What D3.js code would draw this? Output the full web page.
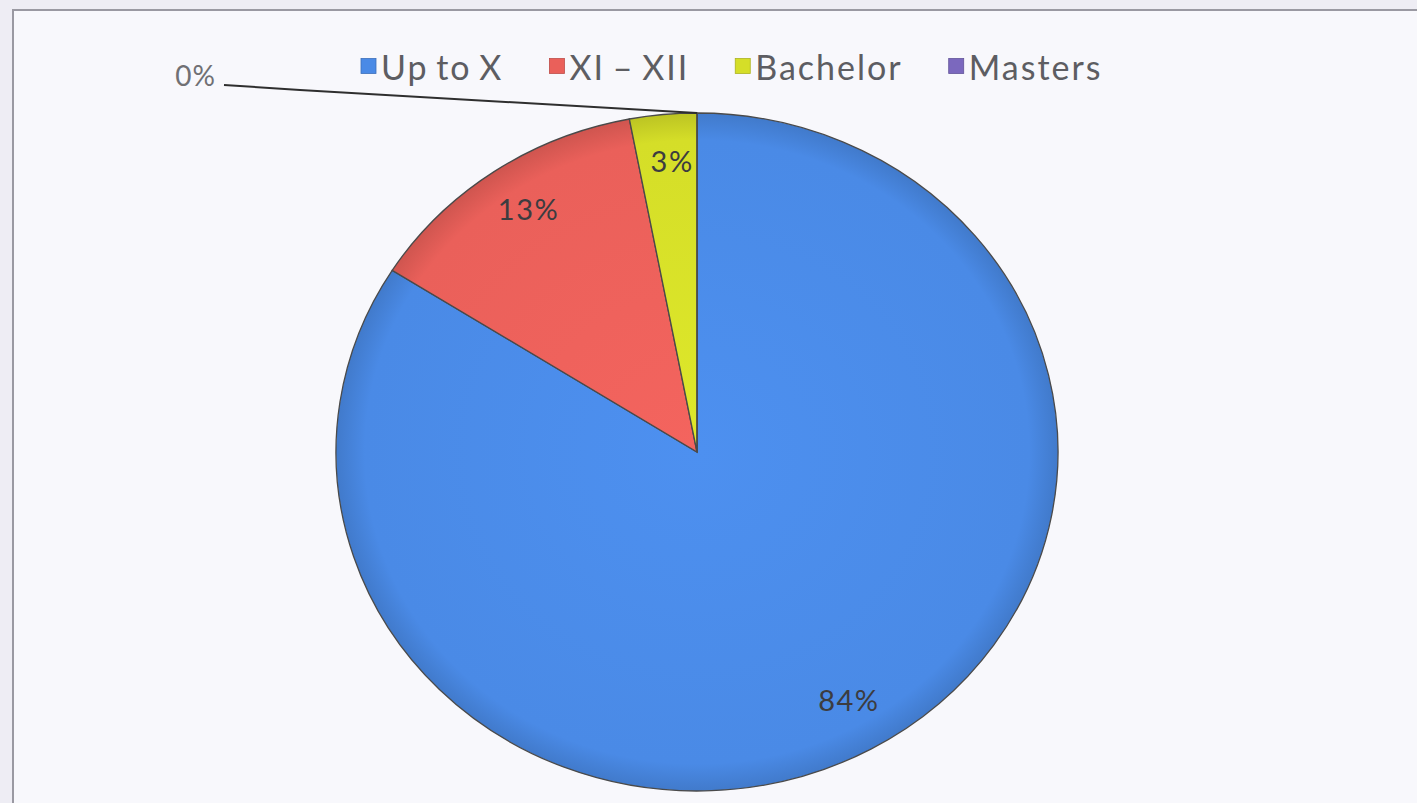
<!DOCTYPE html>
<html>
<head>
<meta charset="utf-8">
<script src="https://cdn.jsdelivr.net/npm/d3@7"></script>
<style>
  html, body { margin: 0; padding: 0; background: #eeedf4; }
  svg { display: block; }
</style>
</head>
<body>
<div id="chart"></div>
<script>
// education level shares
var categories = ["Up to X", "XI \u2013 XII", "Bachelor", "Masters"];
var values = [84, 13, 3, 0];
var colors = ["#4a8ae6", "#ea605a", "#d5de28", "#7b68be"];
var labels = ["84%", "13%", "3%", "0%"];

var W = 1417, H = 803;
var cx = 697, cy = 452, rx = 361, ry = 339;
var font = "Lato, 'Open Sans', sans-serif";

var svg = d3.select("#chart").append("svg")
  .attr("width", W)
  .attr("height", H);

// chart area frame
svg.append("rect")
  .attr("x", 13).attr("y", 10)
  .attr("width", W).attr("height", H)
  .attr("fill", "#f8f8fc")
  .attr("stroke", "#9a99a2")
  .attr("stroke-width", 2);

var defs = svg.append("defs");
colors.forEach(function(c, i) {
  var g = defs.append("radialGradient")
    .attr("id", "grad" + i)
    .attr("gradientUnits", "userSpaceOnUse")
    .attr("cx", 0).attr("cy", 0).attr("r", rx);
  g.append("stop").attr("offset", "0%").attr("stop-color", d3.color(c).brighter(0.12));
  g.append("stop").attr("offset", "92%").attr("stop-color", c);
  g.append("stop").attr("offset", "100%").attr("stop-color", d3.color(c).darker(0.35));
});

var pie = d3.pie().sort(null).value(function(d) { return d; });
var arcs = pie(values);

var arc = d3.arc().innerRadius(0).outerRadius(rx);
var labelArc = d3.arc().innerRadius(rx * 0.85).outerRadius(rx * 0.85);

var g = svg.append("g")
  .attr("transform", "translate(" + cx + "," + cy + ") scale(1," + (ry / rx) + ")");

g.selectAll("path")
  .data(arcs)
  .enter()
  .append("path")
  .attr("d", arc)
  .attr("fill", function(d, i) { return "url(#grad" + i + ")"; })
  .attr("stroke", "#4a4a4a")
  .attr("stroke-width", 1.3)
  .attr("vector-effect", "non-scaling-stroke");

// labels inside slices
svg.selectAll("text.pct")
  .data(arcs.filter(function(d) { return d.value > 0; }))
  .enter()
  .append("text")
  .attr("class", "pct")
  .attr("x", function(d) { return cx + labelArc.centroid(d)[0] + 4; })
  .attr("y", function(d) { return cy + labelArc.centroid(d)[1] * ry / rx - 5; })
  .attr("text-anchor", "middle")
  .attr("dominant-baseline", "central")
  .style("font-family", font)
  .style("font-size", "29px")
  .style("letter-spacing", "1.5px")
  .style("fill", "#3c3c40")
  .text(function(d) { return labels[d.index]; });

// 0% slice leader line and label
var zero = arcs[3];
var tip = [cx + rx * Math.sin(zero.startAngle), cy - ry * Math.cos(zero.startAngle)];
svg.append("path")
  .attr("d", d3.line()([[224, 85], [300, 90], tip]))
  .attr("fill", "none")
  .attr("stroke", "#2e2e2e")
  .attr("stroke-width", 2);
svg.append("text")
  .attr("x", 216).attr("y", 75)
  .attr("text-anchor", "end")
  .attr("dominant-baseline", "central")
  .style("font-family", font)
  .style("font-size", "28px")
  .style("letter-spacing", "1px")
  .style("fill", "#707074")
  .text(labels[3]);

// legend
var legend = svg.append("g").attr("transform", "translate(361,66)");
var lx = 0;
categories.forEach(function(c, i) {
  var item = legend.append("g").attr("transform", "translate(" + lx + ",0)");
  item.append("rect")
    .attr("x", 0).attr("y", -7.5)
    .attr("width", 15).attr("height", 15)
    .attr("fill", colors[i])
    .attr("stroke", d3.color(colors[i]).darker(0.6))
    .attr("stroke-width", 0.8);
  var t = item.append("text")
    .attr("x", 20).attr("y", 0)
    .attr("dominant-baseline", "central")
    .style("font-family", font)
    .style("font-size", "34px")
    .style("letter-spacing", "2px")
    .style("word-spacing", "-3px")
    .style("fill", "#5d5d62")
    .text(c);
  lx += 20 + t.node().getComputedTextLength() + 46;
});
</script>
</body>
</html>
